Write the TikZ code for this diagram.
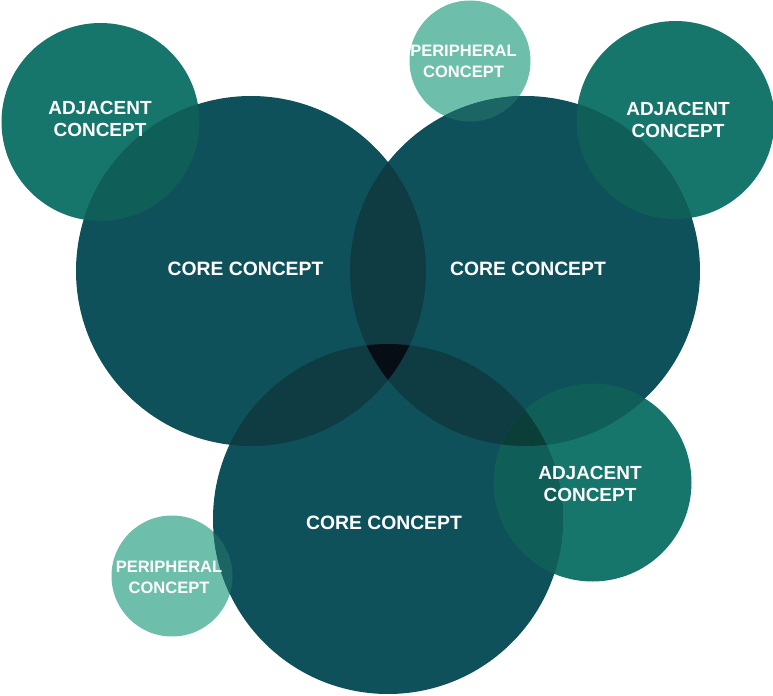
\documentclass[tikz,border=0pt]{standalone}
\usepackage{fontspec}
\setmainfont{Liberation Sans}
\definecolor{corefill}{HTML}{0E515A}
\definecolor{coreduo}{HTML}{0F3B43}
\definecolor{coretrio}{HTML}{070D15}
\definecolor{adjfill}{HTML}{17766B}
\definecolor{adjcore}{HTML}{0F5E58}
\definecolor{adjduo}{HTML}{0C3E38}
\definecolor{perfill}{HTML}{6DBFAB}
\definecolor{percore}{HTML}{1B6565}
\begin{document}
\begin{tikzpicture}[
  bigtext/.style={text=white,align=center,font=\bfseries\fontsize{11}{12.5}\selectfont},
  midtext/.style={text=white,align=center,font=\bfseries\fontsize{10.8}{12.5}\selectfont},
  smalltext/.style={text=white,align=center,font=\bfseries\fontsize{9.4}{11.9}\selectfont}]
\useasboundingbox (0,0) rectangle (15.46,13.9);
% centres
\coordinate (cL) at (5.02,8.48);
\coordinate (cR) at (10.50,8.48);
\coordinate (cB) at (7.76,3.52);
\coordinate (aTL) at (2.01,11.46);
\coordinate (aTR) at (13.51,11.50);
\coordinate (aBR) at (11.85,4.25);
\coordinate (pT) at (9.40,12.68);
\coordinate (pBL) at (3.44,2.38);
% circles
\foreach \c in {pT,pBL} \fill[perfill] (\c) circle (1.21);
\foreach \c in {aTL,aTR,aBR} \fill[adjfill] (\c) circle (1.98);
\foreach \c in {cL,cR,cB} \fill[corefill] (\c) circle (3.5);
% overlaps
\foreach \a/\b in {cL/cR,cL/cB,cR/cB} {
  \begin{scope} \clip (\a) circle (3.5); \fill[coreduo] (\b) circle (3.5); \end{scope}
}
\begin{scope} \clip (cL) circle (3.5); \clip (cR) circle (3.5); \fill[coretrio] (cB) circle (3.5); \end{scope}
\foreach \a/\b in {aTL/cL,aTR/cR,aBR/cR,aBR/cB} {
  \begin{scope} \clip (\a) circle (1.98); \fill[adjcore] (\b) circle (3.5); \end{scope}
}
\begin{scope} \clip (aBR) circle (1.98); \clip (cR) circle (3.5); \fill[adjduo] (cB) circle (3.5); \end{scope}
\foreach \a/\b in {pT/cR,pBL/cB} {
  \begin{scope} \clip (\a) circle (1.21); \fill[percore] (\b) circle (3.5); \end{scope}
}
% labels
\node[bigtext] (tL) at (4.91,8.52) {CORE CONCEPT};
\node[bigtext] (tR) at (10.56,8.52) {CORE CONCEPT};
\node[bigtext] (tB) at (7.68,3.44) {CORE CONCEPT};
\node[midtext] (tTL) at (2.0,11.52) {ADJACENT\\CONCEPT};
\node[midtext] (tTR) at (13.56,11.5) {ADJACENT\\CONCEPT};
\node[midtext] (tBR) at (11.80,4.23) {ADJACENT\\CONCEPT};
\node[smalltext] (tT) at (9.27,12.68) {PERIPHERAL\\CONCEPT};
\node[smalltext] (tBL) at (3.38,2.35) {PERIPHERAL\\CONCEPT};
\end{tikzpicture}
\end{document}
